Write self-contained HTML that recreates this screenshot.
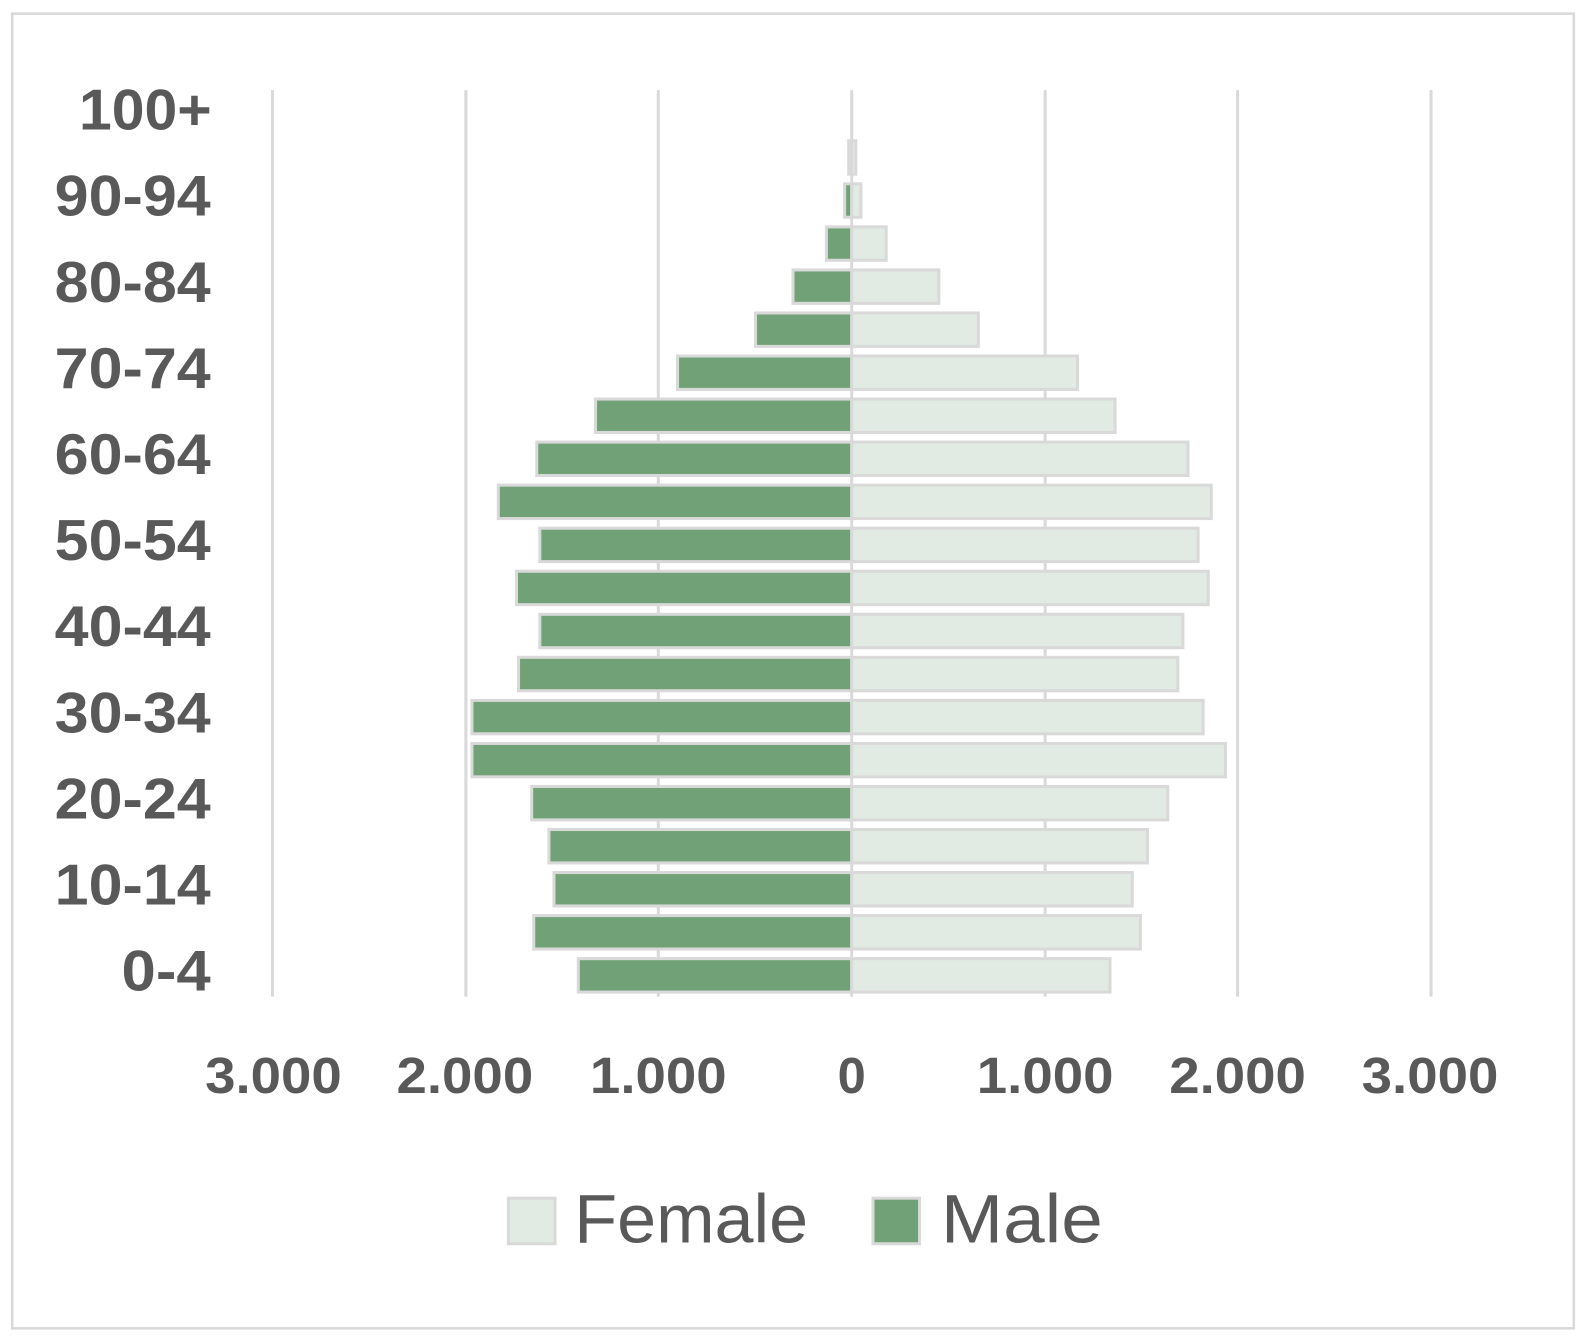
<!DOCTYPE html>
<html><head><meta charset="utf-8"><style>
html,body{margin:0;padding:0;background:#fff;}
svg{display:block;}
text{font-family:"Liberation Sans",sans-serif;fill:#595959;}
</style></head><body>
<svg width="1588" height="1341" viewBox="0 0 1568 1324" preserveAspectRatio="none" xmlns="http://www.w3.org/2000/svg">
<rect x="12" y="13.5" width="1542" height="1298" fill="#fff" stroke="#d9d9d9" stroke-width="2.5"/>
<g stroke="#d9d9d9" stroke-width="3">
<line x1="269" y1="89" x2="269" y2="984"/>
<line x1="460" y1="89" x2="460" y2="984"/>
<line x1="650" y1="89" x2="650" y2="984"/>
<line x1="841" y1="89" x2="841" y2="984"/>
<line x1="1032" y1="89" x2="1032" y2="984"/>
<line x1="1222" y1="89" x2="1222" y2="984"/>
<line x1="1413" y1="89" x2="1413" y2="984"/>
</g>
<g stroke="#d9d9d9" stroke-width="3" fill="#71a277">
<rect x="571" y="946.5" width="270" height="33"/>
<rect x="527" y="904" width="314" height="33"/>
<rect x="547" y="861.5" width="294" height="33"/>
<rect x="542" y="819" width="299" height="33"/>
<rect x="525" y="776.5" width="316" height="33"/>
<rect x="466" y="734" width="375" height="33"/>
<rect x="466" y="691.5" width="375" height="33"/>
<rect x="512" y="649" width="329" height="33"/>
<rect x="533" y="606.5" width="308" height="33"/>
<rect x="510" y="564" width="331" height="33"/>
<rect x="533" y="521.5" width="308" height="33"/>
<rect x="492" y="479" width="349" height="33"/>
<rect x="530" y="436.5" width="311" height="33"/>
<rect x="588" y="394" width="253" height="33"/>
<rect x="669" y="351.5" width="172" height="33"/>
<rect x="746" y="309" width="95" height="33"/>
<rect x="783" y="266.5" width="58" height="33"/>
<rect x="816" y="224" width="25" height="33"/>
<rect x="834" y="181.5" width="7" height="33"/>
<rect x="838" y="139" width="3" height="33"/>
</g>
<g stroke="#d9d9d9" stroke-width="3" fill="#e2ebe3">
<rect x="841" y="946.5" width="255" height="33"/>
<rect x="841" y="904" width="285" height="33"/>
<rect x="841" y="861.5" width="277" height="33"/>
<rect x="841" y="819" width="292" height="33"/>
<rect x="841" y="776.5" width="312" height="33"/>
<rect x="841" y="734" width="369" height="33"/>
<rect x="841" y="691.5" width="347" height="33"/>
<rect x="841" y="649" width="322" height="33"/>
<rect x="841" y="606.5" width="327" height="33"/>
<rect x="841" y="564" width="352" height="33"/>
<rect x="841" y="521.5" width="342" height="33"/>
<rect x="841" y="479" width="355" height="33"/>
<rect x="841" y="436.5" width="332" height="33"/>
<rect x="841" y="394" width="260" height="33"/>
<rect x="841" y="351.5" width="223" height="33"/>
<rect x="841" y="309" width="125" height="33"/>
<rect x="841" y="266.5" width="86" height="33"/>
<rect x="841" y="224" width="34" height="33"/>
<rect x="841" y="181.5" width="9" height="33"/>
<rect x="841" y="139" width="4" height="33"/>
</g>
<g font-size="57" font-weight="bold" text-anchor="end" lengthAdjust="spacingAndGlyphs">
<text x="209" y="128" textLength="131" lengthAdjust="spacingAndGlyphs">100+</text>
<text x="208" y="213" textLength="154" lengthAdjust="spacingAndGlyphs">90-94</text>
<text x="208" y="298" textLength="154" lengthAdjust="spacingAndGlyphs">80-84</text>
<text x="208" y="383" textLength="154" lengthAdjust="spacingAndGlyphs">70-74</text>
<text x="208" y="468" textLength="154" lengthAdjust="spacingAndGlyphs">60-64</text>
<text x="208" y="553" textLength="154" lengthAdjust="spacingAndGlyphs">50-54</text>
<text x="208" y="638" textLength="154" lengthAdjust="spacingAndGlyphs">40-44</text>
<text x="208" y="723" textLength="154" lengthAdjust="spacingAndGlyphs">30-34</text>
<text x="208" y="808" textLength="154" lengthAdjust="spacingAndGlyphs">20-24</text>
<text x="208" y="893" textLength="154" lengthAdjust="spacingAndGlyphs">10-14</text>
<text x="208" y="978" textLength="88" lengthAdjust="spacingAndGlyphs">0-4</text>
</g>
<g font-size="50" font-weight="bold" text-anchor="middle">
<text x="270" y="1079" textLength="135" lengthAdjust="spacingAndGlyphs">3.000</text>
<text x="459" y="1079" textLength="135" lengthAdjust="spacingAndGlyphs">2.000</text>
<text x="650" y="1079" textLength="135" lengthAdjust="spacingAndGlyphs">1.000</text>
<text x="841" y="1079">0</text>
<text x="1032" y="1079" textLength="135" lengthAdjust="spacingAndGlyphs">1.000</text>
<text x="1222" y="1079" textLength="135" lengthAdjust="spacingAndGlyphs">2.000</text>
<text x="1412" y="1079" textLength="135" lengthAdjust="spacingAndGlyphs">3.000</text>
</g>
<rect x="502" y="1183" width="46" height="45" fill="#e2ebe3" stroke="#d9d9d9" stroke-width="3"/>
<text x="567" y="1227" font-size="68" textLength="231" lengthAdjust="spacingAndGlyphs">Female</text>
<rect x="862" y="1183" width="46" height="45" fill="#71a277" stroke="#d9d9d9" stroke-width="3"/>
<text x="929" y="1227" font-size="68" textLength="160" lengthAdjust="spacingAndGlyphs">Male</text>
</svg>
</body></html>
